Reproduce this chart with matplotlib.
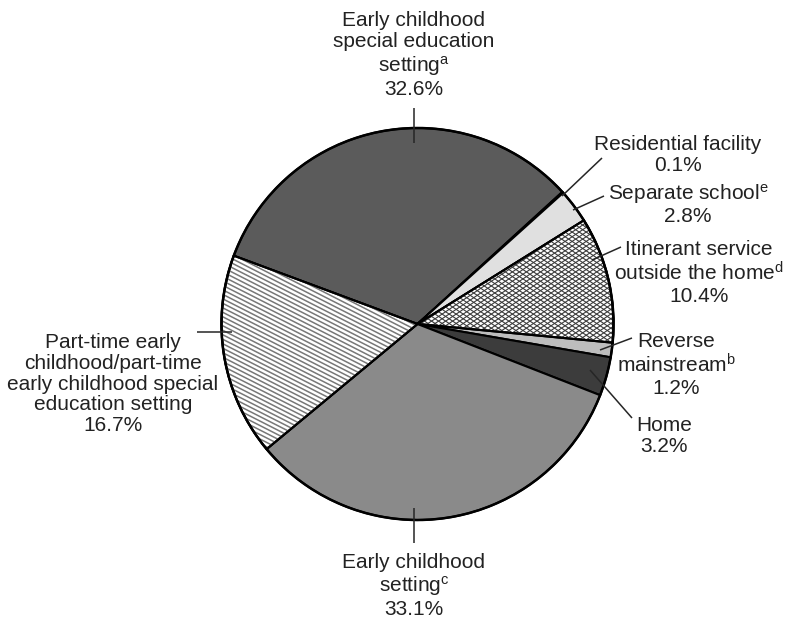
import numpy as np
import matplotlib
matplotlib.use("Agg")
import matplotlib.pyplot as plt
from matplotlib.collections import LineCollection
from matplotlib.patches import Wedge, Circle

plt.rcParams["font.family"] = ["Liberation Sans", "DejaVu Sans"]
plt.rcParams["mathtext.fontset"] = "custom"
plt.rcParams["mathtext.rm"] = "Liberation Sans"
plt.rcParams["mathtext.it"] = "Liberation Sans:italic"

# Educational environments, in clockwise order starting at the upper-left boundary
categories = [
    "Early childhood special education setting",
    "Residential facility",
    "Separate school",
    "Itinerant service outside the home",
    "Reverse mainstream",
    "Home",
    "Early childhood setting",
    "Part-time early childhood/part-time early childhood special education setting",
]
shares = [32.6, 0.1, 2.8, 10.4, 1.2, 3.2, 33.1, 16.7]
label_lines = [
    "Early childhood\nspecial education\nsetting$^{\\mathrm{a}}$",
    "Residential facility",
    "Separate school$^{\\mathrm{e}}$",
    "Itinerant service\noutside the home$^{\\mathrm{d}}$",
    "Reverse\nmainstream$^{\\mathrm{b}}$",
    "Home",
    "Early childhood\nsetting$^{\\mathrm{c}}$",
    "Part-time early\nchildhood/part-time\nearly childhood special\neducation setting",
]

fills = ["#5b5b5b", "#000000", "#e0e0e0", "#ffffff", "#bdbdbd", "#3c3c3c", "#8a8a8a", "#ffffff"]
hatch_style = {3: "cross", 7: "stripe"}

W, H = 790, 623
fig = plt.figure(figsize=(W / 100, H / 100), dpi=100)
ax = fig.add_axes([0, 0, 1, 1])


def Y(y):
    return H - y


cx, cy, R = 417.5, Y(324), 196

wedges, _ = ax.pie(
    shares,
    colors=fills,
    startangle=159.6,
    counterclock=False,
    center=(cx, cy),
    radius=R,
    normalize=True,
    wedgeprops=dict(edgecolor="black", linewidth=1.5, zorder=1),
    frame=True,
)
ax.set_xlim(0, W)
ax.set_ylim(0, H)
ax.set_aspect("equal")
ax.axis("off")


def hatch_lines(angle_deg, spacing):
    t = np.deg2rad(angle_deg)
    d = np.array([np.cos(t), np.sin(t)])
    n = np.array([-np.sin(t), np.cos(t)])
    segs = []
    for k in np.arange(-R * 1.5, R * 1.5, spacing):
        p = np.array([cx, cy]) + n * k
        segs.append([p - d * R * 1.5, p + d * R * 1.5])
    return segs


for i, style in hatch_style.items():
    w = wedges[i]
    if style == "cross":
        segs = hatch_lines(33.7, 3.9) + hatch_lines(-33.7, 3.9)
        lc = LineCollection(segs, colors="#3a3a3a", linewidths=0.8, zorder=1.5)
    else:
        segs = hatch_lines(-27, 4.0)
        lc = LineCollection(segs, colors="#777777", linewidths=1.1, zorder=1.5)
    ax.add_collection(lc)
    lc.set_clip_path(w)
    outline = Wedge(w.center, w.r, w.theta1, w.theta2, fill=False,
                    edgecolor="black", linewidth=1.5, zorder=2)
    ax.add_patch(outline)

ax.add_patch(Circle((cx, cy), R, fill=False, edgecolor="black", linewidth=1.8, zorder=3))

# Label blocks: (x, y) centre of each text block and leader segment endpoints
label_pos = [(414, 55), (678, 155), (688, 204), (699, 273), (676, 365), (664, 436), (414, 586), (113, 384)]
leaders = [
    ((414, 108), (414, 143)),
    ((602, 158), (562, 196)),
    ((604, 196), (573, 210)),
    ((621, 247), (592, 260)),
    ((632, 338), (600, 350)),
    ((590, 370), (632, 418)),
    ((414, 508), (414, 543)),
    ((197, 332), (232, 332)),
]

for lines, share, (tx, ty), (p0, p1) in zip(label_lines, shares, label_pos, leaders):
    ax.text(tx, Y(ty), f"{lines}\n{share:.1f}%", ha="center", va="center",
            fontsize=15, color="#222222", linespacing=1.13, zorder=4)
    ax.plot([p0[0], p1[0]], [Y(p0[1]), Y(p1[1])], color="#262626", lw=1.1,
            solid_capstyle="butt", zorder=4)

fig.savefig("out.png", dpi=100)
